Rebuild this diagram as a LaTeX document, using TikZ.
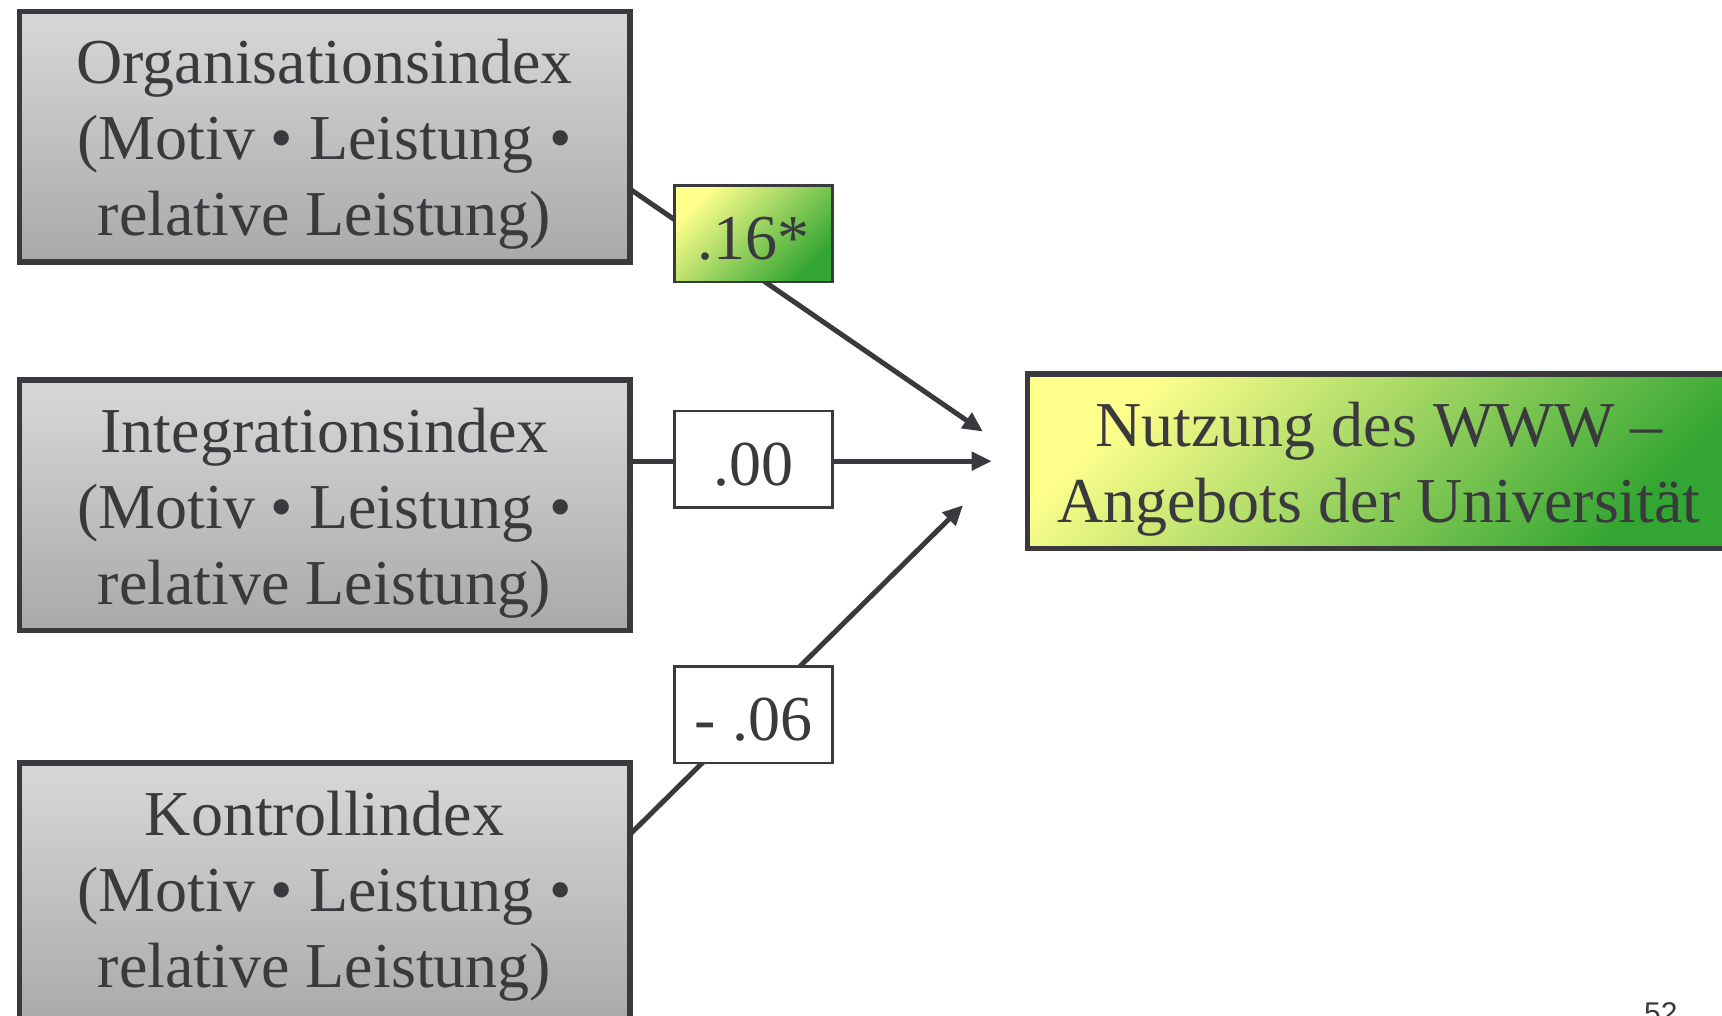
\documentclass[tikz,border=0pt]{standalone}
\usepackage{fontspec}
\setmainfont{Liberation Serif}
\newfontfamily\pagefont{Liberation Sans}
\usetikzlibrary{arrows.meta}
\definecolor{ink}{HTML}{3A393E}
\definecolor{grayTop}{HTML}{D8D8D8}
\definecolor{grayBot}{HTML}{A9A9A9}
\definecolor{lime}{HTML}{FFFF8C}
\definecolor{leaf}{HTML}{33A532}
% extra head room on the first line, so the text block sits a little lower
\newcommand\boxlead{\rule{0pt}{60pt}}

\begin{document}
\begin{tikzpicture}[x=1pt,y=1pt,
  bigtext/.style={text=ink, font=\fontsize{64}{76}\selectfont},
  indexbox/.style={bigtext, draw=ink, line width=5.5pt,
    top color=grayTop, bottom color=grayBot,
    minimum width=610.5pt, minimum height=250.5pt,
    inner sep=0pt, outer sep=0pt, align=center},
  coefbox/.style={bigtext, draw=ink, line width=2.2pt, fill=white,
    minimum width=158pt, minimum height=96.8pt,
    text height=52pt, text depth=0pt,
    inner sep=0pt, outer sep=0pt},
  sigfill/.style={top color=lime, bottom color=leaf, shading angle=45},
  link/.style={draw=ink, line width=5pt,
    -{Triangle[length=20pt,width=18pt]}}
]
\useasboundingbox (0,0) rectangle (1722,-1015);
\clip (0,0) rectangle (1722,-1015);

% predictor boxes
\node[indexbox] (org) at (324.5,-136.8)
  {\boxlead Organisationsindex\\(Motiv • Leistung •\\relative Leistung)};
\node[indexbox] (integ) at (324.5,-505.2)
  {\boxlead Integrationsindex\\(Motiv • Leistung •\\relative Leistung)};
% the lowest box runs past the lower edge of the page
\node[indexbox, minimum height=264pt] (kontr) at (324.5,-894.75)
  {\rule{0pt}{48pt}Kontrollindex\\(Motiv • Leistung •\\relative Leistung)};

% outcome box
\node[bigtext, draw=ink, line width=5.5pt, sigfill,
  minimum width=703.3pt, minimum height=174.6pt,
  inner sep=0pt, outer sep=0pt, align=center] (www) at (1379,-461.2)
  {\boxlead Nutzung des WWW –\\Angebots der Universität};

% arrow tips in front of the outcome box
\coordinate (t1) at (982.9,-431.6);
\coordinate (t2) at (991.7,-461.2);
\coordinate (t3) at (963.1,-505.2);

% paths
\draw[link] ([yshift=-52.1pt]org.east) -- (t1);
\draw[link] ([yshift=44pt]integ.east) -- (t2);
\draw[link] ([yshift=60.15pt]kontr.east) -- (t3);

% path coefficients
\node[coefbox, sigfill] (c1) at (753.4,-233.9) {.16*};
\node[coefbox] (c2) at (753.4,-459.05) {.00};
\node[coefbox] (c3) at (753.4,-714.9) {- .06};

% page number
\node[anchor=north west, inner sep=0pt, text=ink,
  font=\pagefont\fontsize{30}{36}\selectfont] (pg) at (1644,-1002) {52};
\end{tikzpicture}
\end{document}
